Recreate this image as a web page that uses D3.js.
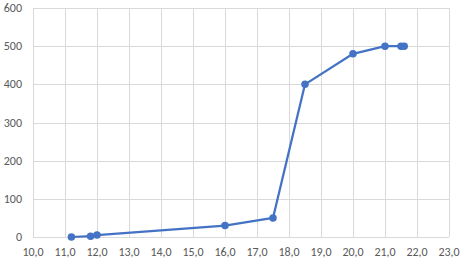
<!DOCTYPE html>
<html>
<head>
<meta charset="utf-8">
<script src="https://cdn.jsdelivr.net/npm/d3@7"></script>
<style>
  body { margin: 0; background: #fff; }
  text { font-family: Calibri, Carlito, "Open Sans", sans-serif; fill: #595959; font-size: 12px; }
</style>
</head>
<body>
<div id="chart"></div>
<script>
var w = 463,
  h = 261;
var margin = { top: 8, right: 14, bottom: 24, left: 33 },
  width = w - margin.left - margin.right,
  height = h - margin.top - margin.bottom;

// data
var xs = [11.2, 11.8, 12.0, 16.0, 17.5, 18.5, 20.0, 21.0, 21.5, 21.6];
var ys = [0, 2, 5, 30, 50, 400, 480, 500, 500, 500];
var xTicks = d3.range(10, 23.5, 1);
var yTicks = [0, 100, 200, 300, 400, 500, 600];

var points = xs.map((x, i) => ({ x: x, y: ys[i] }));

var svg = d3
  .select("#chart")
  .append("svg")
  .attr("width", w)
  .attr("height", h)
  .append("g")
  .attr("transform", `translate(${margin.left}, ${margin.top})`);

var x = d3.scaleLinear().domain([10, 23]).range([0, width]);
var y = d3.scaleLinear().domain([0, 600]).range([height, 0]);

// gridlines
svg
  .selectAll(".vgrid")
  .data(xTicks)
  .enter()
  .append("line")
  .attr("x1", (d) => Math.round(x(d)) + 0.5)
  .attr("x2", (d) => Math.round(x(d)) + 0.5)
  .attr("y1", 0)
  .attr("y2", height)
  .attr("stroke", "#d9d9d9")
  .attr("stroke-width", 1);

svg
  .selectAll(".hgrid")
  .data(yTicks)
  .enter()
  .append("line")
  .attr("x1", 0)
  .attr("x2", width)
  .attr("y1", (d) => Math.round(y(d)) + 0.5)
  .attr("y2", (d) => Math.round(y(d)) + 0.5)
  .attr("stroke", "#d9d9d9")
  .attr("stroke-width", 1);

// tick labels
svg
  .selectAll(".xlab")
  .data(xTicks)
  .enter()
  .append("text")
  .attr("x", (d) => x(d))
  .attr("y", height + 19)
  .attr("text-anchor", "middle")
  .text((d) => d.toFixed(1).replace(".", ","));

svg
  .selectAll(".ylab")
  .data(yTicks)
  .enter()
  .append("text")
  .attr("x", -11)
  .attr("y", (d) => y(d) + 4)
  .attr("text-anchor", "end")
  .text((d) => d);

// series
var line = d3
  .line()
  .x((d) => x(d.x))
  .y((d) => y(d.y));

svg
  .append("path")
  .datum(points)
  .attr("fill", "none")
  .attr("stroke", "#4472c4")
  .attr("stroke-width", 2.25)
  .attr("stroke-linejoin", "round")
  .attr("d", line);

svg
  .selectAll(".dot")
  .data(points)
  .enter()
  .append("circle")
  .attr("cx", (d) => x(d.x))
  .attr("cy", (d) => y(d.y))
  .attr("r", 3.75)
  .attr("fill", "#4472c4");
</script>
</body>
</html>
